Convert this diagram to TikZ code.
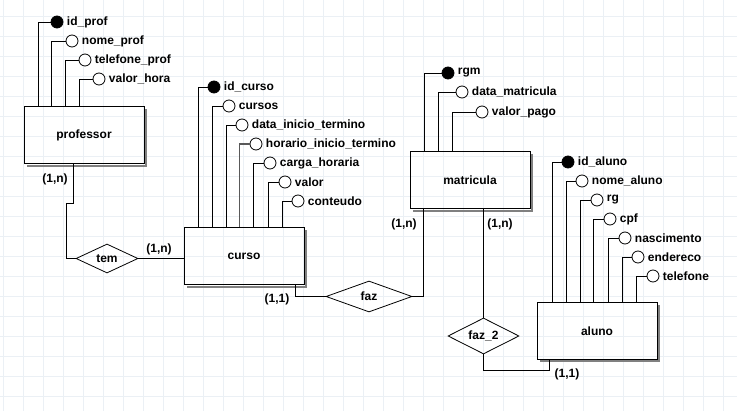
\documentclass[tikz,border=0pt]{standalone}
\usepackage{fontspec}
\setmainfont{Liberation Sans}
\usetikzlibrary{shapes.geometric,positioning}
\definecolor{grd}{HTML}{EBF0F5}
\definecolor{shgray}{HTML}{808080}
\tikzset{
  ent/.style={draw,line width=1pt,minimum width=120pt,minimum height=57pt,inner sep=0pt},
  rel/.style={draw,diamond,line width=0.8pt,inner sep=0pt,aspect=2},
  att/.style={draw,circle,line width=0.8pt,fill=white,minimum size=12pt,inner sep=0pt,
    label={[label distance=0pt]right:#1}},
  pk/.style={att=#1,fill=black},
  ln/.style={line width=0.8pt},
  selln/.style={line width=1.8pt,draw=black!65},
  shd/.style={line width=2pt,draw=shgray},
  card/.style={inner sep=0pt},
}

\begin{document}
\begin{tikzpicture}[x=1pt,y=-1pt,font=\fontsize{12}{14}\selectfont\bfseries]
\useasboundingbox (0,0) rectangle (737,411);
\fill[white] (0,0) rectangle (737,411);
\foreach \x in {3,23,...,723} \draw[grd] (\x,0) -- (\x,411);
\foreach \y in {16,36,...,396} \draw[grd] (0,\y) -- (737,\y);

\node[ent] (professor) at (84,135.5) {professor};
\node[ent] (curso) at (244,256.5) {curso};
\node[ent] (matricula) at (470,180.5) {matricula};
\node[ent] (aluno) at (597,331) {aluno};
\foreach \e in {professor,curso,matricula,aluno}
  \draw[shd] ([xshift=1.5pt,yshift=-3pt]\e.north east) |- ([xshift=3pt,yshift=-1.5pt]\e.south west);

\node[pk=id\_prof] (p1) at (57,22) {};
\node[att=nome\_prof] (p2) at (72,41) {};
\node[att=telefone\_prof] (p3) at (85,60) {};
\node[att=valor\_hora] (p4) at (99,79) {};
\draw[ln] (p1.west) -| ([xshift=15pt]professor.north west);
\draw[ln] (p2.west) -| ([xshift=28pt]professor.north west);
\draw[ln] (p3.west) -| ([xshift=42pt]professor.north west);
\draw[ln] (p4.west) -| ([xshift=56pt]professor.north west);

\node[pk=id\_curso] (c1) at (214,87) {};
\node[att=cursos] (c2) at (229,106) {};
\node[att=data\_inicio\_termino] (c3) at (242,125) {};
\node[att=horario\_inicio\_termino] (c4) at (256,144) {};
\node[att=carga\_horaria] (c5) at (270,163) {};
\node[att=valor] (c6) at (285,182) {};
\node[att=conteudo] (c7) at (298,201) {};
\draw[ln] (c1.west) -| ([xshift=15pt]curso.north west);
\draw[ln] (c2.west) -| ([xshift=29pt]curso.north west);
\draw[ln] (c3.west) -| ([xshift=43pt]curso.north west);
\draw[ln,selln] (c4.west) -| ([xshift=56pt]curso.north west);
\draw[ln] (c5.west) -| ([xshift=70pt]curso.north west);
\draw[ln] (c6.west) -| ([xshift=85pt]curso.north west);
\draw[ln] (c7.west) -| ([xshift=99pt]curso.north west);

\node[pk=rgm] (m1) at (448,73) {};
\node[att=data\_matricula] (m2) at (462,92) {};
\node[att=valor\_pago] (m3) at (482,112) {};
\draw[ln] (m1.west) -| ([xshift=15pt]matricula.north west);
\draw[ln] (m2.west) -| ([xshift=29pt]matricula.north west);
\draw[ln] (m3.west) -| ([xshift=43pt]matricula.north west);

\node[pk=id\_aluno] (a1) at (568,162) {};
\node[att=nome\_aluno] (a2) at (582,181) {};
\node[att=rg] (a3) at (597,200) {};
\node[att=cpf] (a4) at (610,219) {};
\node[att=nascimento] (a5) at (625,238) {};
\node[att=endereco] (a6) at (638,257) {};
\node[att=telefone] (a7) at (653,276) {};
\draw[ln] (a1.west) -| ([xshift=16pt]aluno.north west);
\draw[ln] (a2.west) -| ([xshift=30pt]aluno.north west);
\draw[ln] (a3.west) -| ([xshift=44pt]aluno.north west);
\draw[ln] (a4.west) -| ([xshift=57pt]aluno.north west);
\draw[ln] (a5.west) -| ([xshift=72pt]aluno.north west);
\draw[ln] (a6.west) -| ([xshift=86pt]aluno.north west);
\draw[ln] (a7.west) -| ([xshift=100pt]aluno.north west);

\node[rel,minimum width=62pt,minimum height=29pt] (tem) at (107,258.5) {tem};
\node[rel,minimum width=86pt,minimum height=31pt] (faz) at (369,296.5) {faz};
\node[rel,minimum width=71pt,minimum height=36pt] (faz2) at (483.5,336) {faz\_2};

\draw[ln] ([xshift=-11pt]professor.south) |- ++(-7,39) |- (tem.west);
\draw[ln] (tem.east) -- (tem.east -| curso.west);
\draw[ln] ([xshift=-9pt]curso.south east) |- (faz.west);
\draw[ln] (faz.east) -| ([xshift=-47pt]matricula.south);
\draw[ln] (faz2.north |- matricula.south) -- (faz2.north);
\draw[ln] (faz2.south) -- ++(0,16) -| ([xshift=13pt]aluno.south west);

\node[card] (k1) at (55,179) {(1,n)};
\node[card] (k2) at (159,249) {(1,n)};
\node[card] (k3) at (277,299) {(1,1)};
\node[card] (k4) at (404,224) {(1,n)};
\node[card] (k5) at (500,224) {(1,n)};
\node[card] (k6) at (567,374) {(1,1)};
\end{tikzpicture}
\end{document}
